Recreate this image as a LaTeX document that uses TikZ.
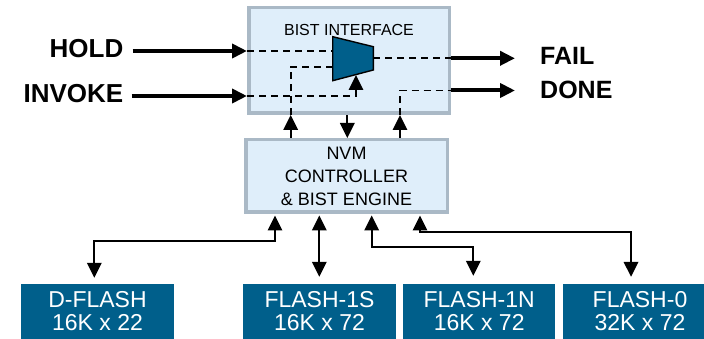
\documentclass[tikz,border=0pt]{standalone}
\usepackage{fontspec}
\setmainfont{Liberation Sans}
\usetikzlibrary{arrows.meta}
\definecolor{panelfill}{RGB}{223,238,250}
\definecolor{panelline}{RGB}{170,185,198}
\definecolor{flashblue}{RGB}{0,95,139}
\begin{document}
\begin{tikzpicture}[x=1pt,y=-1pt,
  panel/.style={draw=panelline, line width=3.5pt, fill=panelfill, inner sep=0pt},
  flash/.style={fill=flashblue, text=white, minimum height=55pt, inner sep=0pt,
    align=center, font=\fontsize{23}{23}\selectfont},
  sig/.style={line width=4pt, -{Triangle[length=15pt,width=14pt]}},
  conn/.style={line width=1.8pt},
  dashline/.style={line width=1.7pt, dash pattern=on 7pt off 5pt},
  lbl/.style={inner sep=0pt, font=\bfseries\fontsize{26}{26}\selectfont},
  tipped/.style={-{Triangle[length=15pt,width=14.5pt]}},
  bothtips/.style={{Triangle[length=15pt,width=14.5pt]}-{Triangle[length=15pt,width=14.5pt]}}
]
\useasboundingbox (0,0) rectangle (704,339);
\fill[white] (0,0) rectangle (704,339);
\clip (0,0) rectangle (704,339);

% blocks
\node[panel, minimum width=200.5pt, minimum height=105.5pt] (bist) at (349,60.5) {};
\node[inner sep=0pt, font=\fontsize{16}{19}\selectfont] (bistlbl) at (349,29.5) {BIST INTERFACE};
\node[panel, minimum width=201.5pt, minimum height=72.5pt, align=center,
  font=\fontsize{18}{23}\selectfont] (nvm) at (346.5,176)
  {NVM\\CONTROLLER\\\& BIST ENGINE};

\node[flash, minimum width=153pt]   (dflash) at (97.5,311.5)  {D-FLASH\\16K x 22};
\node[flash, minimum width=152.4pt] (f1s)    at (319.5,311.5) {FLASH-1S\\16K x 72};
\node[flash, minimum width=151.7pt] (f1n)    at (479.2,311.5) {FLASH-1N\\16K x 72};
\node[flash, minimum width=154pt]   (f0)     at (640,311.5)   {FLASH-0\\32K x 72};

% external signal labels
\node[lbl, anchor=east] (hold)   at (123.5,49) {HOLD};
\node[lbl, anchor=east] (invoke) at (123.5,94) {INVOKE};
\node[lbl, anchor=west, font=\bfseries\fontsize{25}{25}\selectfont] (fail) at (540,56) {FAIL};
\node[lbl, anchor=west, font=\bfseries\fontsize{25}{25}\selectfont] (done) at (540,90) {DONE};

% multiplexer
\filldraw[fill=flashblue, draw=black, line width=1.4pt, line join=miter]
  (332.7,36.7) -- (373.3,46.7) -- (373.3,70) -- (332.7,80.7) -- cycle;
\coordinate (muxin1) at (332.7,51);
\coordinate (muxin2) at (332.7,66.7);
\coordinate (muxout) at (373.3,58.3);
\coordinate (muxsel) at (356,75);

% signal ends
\coordinate (holdA) at (132.7,51);
\coordinate (invA)  at (131.7,96);
\coordinate (failA) at (515,58.3);
\coordinate (doneA) at (515,90.5);

% columns between the two panels
\coordinate (xa) at (290.7,0);
\coordinate (xb) at (347.3,0);
\coordinate (xc) at (400,0);
% columns below the controller
\coordinate (xd) at (275,0);
\coordinate (xe) at (319.3,0);
\coordinate (xf) at (371.7,0);
\coordinate (xg) at (420,0);

% inputs
\draw[sig] (holdA) -- (holdA -| bist.west);
\draw[sig] (invA) -- (invA -| bist.west);
\draw[dashline] (holdA -| bist.west) -- (muxin1);
\draw[dashline, tipped] (invA -| bist.west) -| (muxsel);

% outputs
\draw[dashline] (muxout) -- (failA -| bist.east);
\draw[sig] (failA -| bist.east) -- (failA);
\draw[dashline] (bist.south -| xc) |- (doneA -| bist.east);
\draw[sig] (doneA -| bist.east) -- (doneA);
\draw[dashline] (bist.south -| xa) |- (muxin2);

% controller <-> interface
\draw[conn, tipped] (nvm.north -| xa) -- (bist.south -| xa);
\draw[conn, tipped] (bist.south -| xb) -- (nvm.north -| xb);
\draw[conn, tipped] (nvm.north -| xc) -- (bist.south -| xc);

% controller <-> flash arrays
\draw[conn, bothtips, shorten <=1.5pt, shorten >=6pt]
  (nvm.south -| xd) -- ++(0,27) -| ([xshift=-3.2pt]dflash.north);
\draw[conn, bothtips, shorten <=1.5pt, shorten >=7pt]
  (nvm.south -| xe) -- (f1s.north -| xe);
\draw[conn, bothtips, shorten <=1.5pt, shorten >=8pt]
  (nvm.south -| xf) -- ++(0,33) -| ([xshift=-5.9pt]f1n.north);
\draw[conn, bothtips, shorten <=1.5pt, shorten >=7pt]
  (nvm.south -| xg) -- ++(0,17.75) -| ([xshift=-9pt]f0.north);
\end{tikzpicture}
\end{document}
